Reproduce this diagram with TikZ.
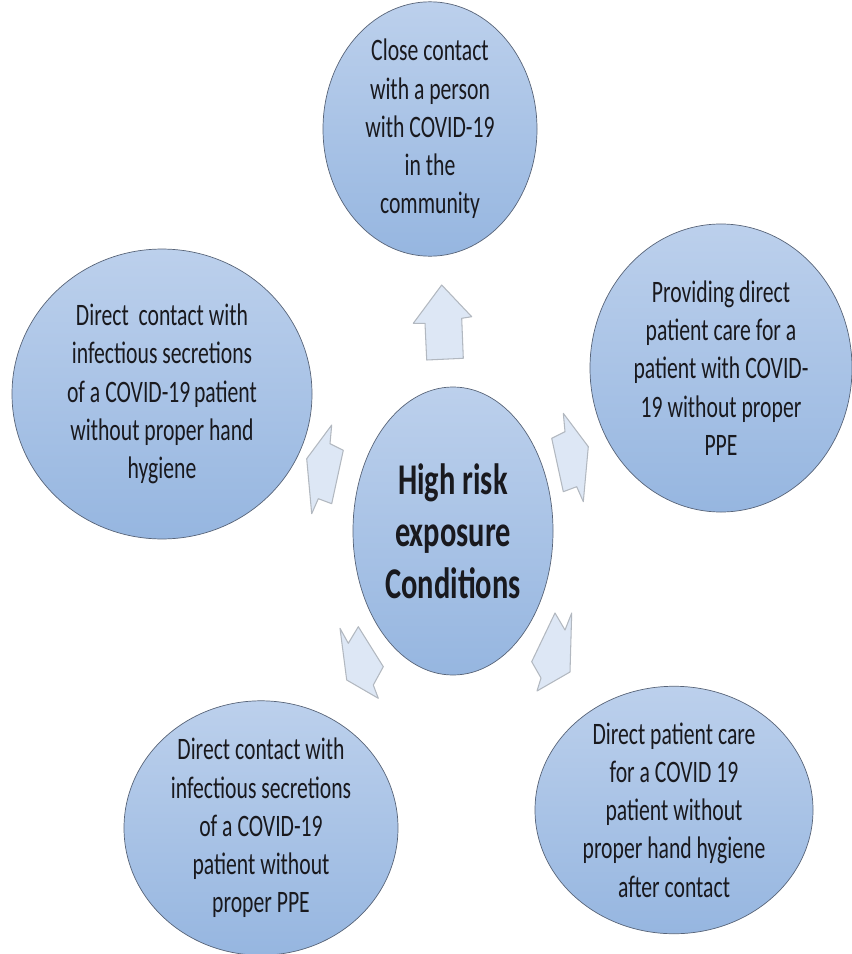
\documentclass[tikz,border=0pt]{standalone}
\usepackage{fontspec}
\setmainfont{Carlito}
\usetikzlibrary{shapes.geometric}
\definecolor{bubbletop}{RGB}{188,208,236}
\definecolor{bubblebot}{RGB}{150,182,224}
\definecolor{bubbleline}{RGB}{88,100,120}
\definecolor{arrowfill}{RGB}{221,231,245}
\definecolor{arrowline}{RGB}{178,184,192}
\definecolor{textdark}{RGB}{25,25,30}

\tikzset{
  bubble/.style={ellipse, draw=bubbleline, line width=0.6pt, top color=bubbletop,
    bottom color=bubblebot, inner sep=0pt, align=center, text=textdark, yscale=1.44,
    font=\fontsize{18.5}{22.7}\selectfont},
  blockarrow/.style={draw=arrowline, fill=arrowfill, line width=0.9pt, line join=round}
}

\begin{document}
\begin{tikzpicture}[x=0.03cm, y=-0.03cm]
\useasboundingbox (0,0) rectangle (852,954);

% centre bubble
\node[bubble, minimum width=6cm, minimum height=6cm,
  font=\bfseries\fontsize{26}{30.8}\selectfont] (centre) at (453,531) {High risk\\exposure\\Conditions};

% outer bubbles
\node[bubble, minimum width=6.42cm, minimum height=5.08cm] (community) at (430,129)
  {Close contact\\with a person\\with COVID-19\\in the\\community};
\node[bubble, minimum width=9cm, minimum height=6.04cm] (handcontact) at (162,394)
  {Direct\ \ contact with\\infectious secretions\\of a COVID-19\,patient\\without proper hand\\hygiene};
\node[bubble, minimum width=7.86cm, minimum height=6cm] (careppe) at (721,368)
  {Providing direct\\patient care for a\\patient with COVID-\\19 without proper\\PPE};
\node[bubble, minimum width=8.22cm, minimum height=5.17cm] (contactppe) at (261,828)
  {Direct contact with\\infectious secretions\\of a COVID-19\\patient without\\proper PPE};
\node[bubble, minimum width=8.34cm, minimum height=5.08cm] (carehygiene) at (674,810)
  {Direct patient care\\for a COVID 19\\patient without\\proper hand hygiene\\after contact};

% arrows out of the centre
\draw[blockarrow] (441.7,285) -- (471.7,316.7) -- (461.7,318.3) -- (463.3,358.3)
  -- (426.7,360) -- (425,323.3) -- (413.3,323.3) -- cycle;
\draw[blockarrow] (588.3,446.7) -- (583.3,501.7) -- (576.7,486.7) -- (563.3,491.7)
  -- (551.7,438.3) -- (565,431.7) -- (563.3,413.3) -- cycle;
\draw[blockarrow] (306.7,458.7) -- (311.7,513.7) -- (318.3,498.7) -- (331.7,503.7)
  -- (343.3,450.3) -- (330,443.7) -- (331.7,425) -- cycle;
\draw[blockarrow] (346.7,680) -- (340,628.3) -- (348.3,643.3) -- (358.3,626.7)
  -- (383.3,666.7) -- (373.3,685) -- (378.3,698.3) -- cycle;
\draw[blockarrow] (570,672) -- (571.7,613) -- (565,630) -- (555,613)
  -- (531.7,661.7) -- (541,678) -- (537,691) -- cycle;

\end{tikzpicture}
\end{document}
